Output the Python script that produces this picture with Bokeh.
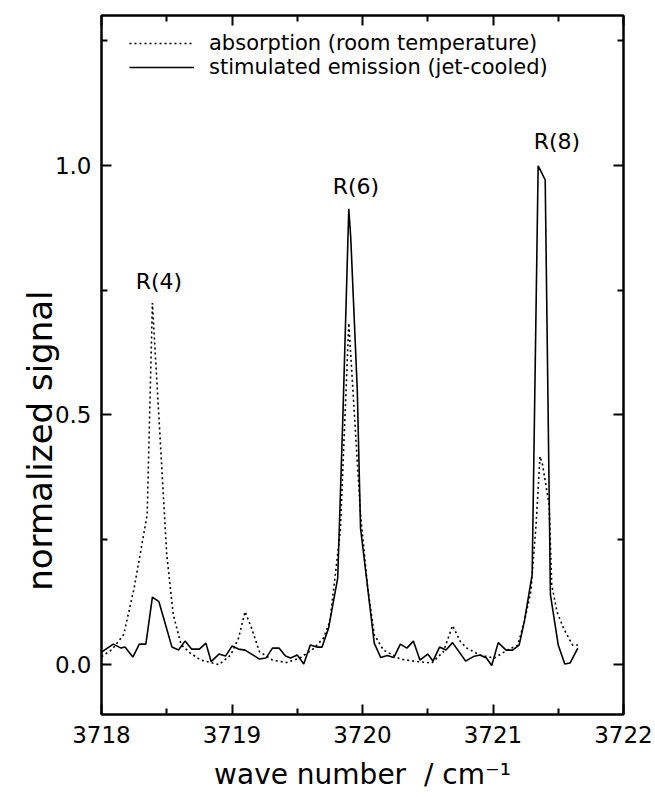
from bokeh.plotting import figure
from bokeh.models import (Range1d, FixedTicker, LinearAxis, Legend, LegendItem, ColumnDataSource,
                          CustomJSTickFormatter, PrintfTickFormatter)
from bokeh.core.properties import value
from bokeh.embed import file_html
from bokeh.resources import INLINE

# ---- data ----
solid_x = [3718.00, 3718.09, 3718.15, 3718.18, 3718.24, 3718.29, 3718.34, 3718.39, 3718.44,
           3718.54, 3718.59, 3718.64, 3718.69, 3718.75, 3718.80, 3718.84, 3718.90, 3718.95,
           3719.00, 3719.05, 3719.10, 3719.15, 3719.21, 3719.26, 3719.31, 3719.36, 3719.41,
           3719.45, 3719.50, 3719.55, 3719.60, 3719.65, 3719.69, 3719.74, 3719.81, 3719.85,
           3719.895, 3719.91, 3719.96, 3719.985, 3720.04, 3720.09, 3720.14, 3720.19, 3720.24,
           3720.29, 3720.34, 3720.39, 3720.44, 3720.50, 3720.54, 3720.59, 3720.64, 3720.69,
           3720.79, 3720.85, 3720.90, 3720.95, 3720.99, 3721.04, 3721.10, 3721.15, 3721.20,
           3721.24, 3721.30, 3721.346, 3721.40, 3721.44, 3721.50, 3721.55, 3721.59, 3721.65]
solid_y = [0.025, 0.041, 0.033, 0.035, 0.015, 0.041, 0.041, 0.135, 0.126,
           0.035, 0.029, 0.047, 0.031, 0.031, 0.043, 0.006, 0.021, 0.017,
           0.037, 0.031, 0.029, 0.021, 0.011, 0.013, 0.033, 0.033, 0.017,
           0.013, 0.019, 0.001, 0.039, 0.035, 0.035, 0.073, 0.173, 0.500,
           0.913, 0.855, 0.550, 0.273, 0.153, 0.043, 0.014, 0.018, 0.014,
           0.041, 0.033, 0.047, 0.009, 0.021, 0.007, 0.035, 0.029, 0.044,
           0.007, 0.016, 0.019, 0.013, -0.002, 0.044, 0.029, 0.029, 0.039,
           0.086, 0.180, 0.999, 0.971, 0.140, 0.039, 0.001, 0.003, 0.033]

dotted_x = [3718.00, 3718.08, 3718.17, 3718.25, 3718.35, 3718.39, 3718.50, 3718.55, 3718.61,
            3718.68, 3718.76, 3718.90, 3718.99, 3719.05, 3719.10, 3719.15, 3719.21, 3719.31,
            3719.42, 3719.52, 3719.63, 3719.70, 3719.75, 3719.83, 3719.895, 3719.985, 3720.04,
            3720.09, 3720.16, 3720.29, 3720.39, 3720.53, 3720.62, 3720.69, 3720.75, 3720.80,
            3720.90, 3721.01, 3721.11, 3721.19, 3721.24, 3721.29, 3721.33, 3721.36, 3721.38,
            3721.43, 3721.45, 3721.49, 3721.54, 3721.61, 3721.65]
dotted_y = [0.016, 0.030, 0.060, 0.153, 0.300, 0.724, 0.220, 0.100, 0.040,
            0.023, 0.009, 0.000, 0.019, 0.053, 0.106, 0.073, 0.026, 0.009,
            0.004, 0.013, 0.033, 0.053, 0.086, 0.267, 0.684, 0.300, 0.153,
            0.060, 0.029, 0.011, 0.007, 0.003, 0.026, 0.078, 0.046, 0.033,
            0.019, 0.013, 0.029, 0.039, 0.086, 0.146, 0.280, 0.417, 0.400,
            0.320, 0.160, 0.106, 0.073, 0.039, 0.039]

peak_labels = ["R(4)", "R(6)", "R(8)"]
peak_label_x = [3718.44, 3719.95, 3721.49]
peak_label_y = [0.768, 0.958, 1.048]

series_names = ["absorption (room temperature)", "stimulated emission (jet-cooled)"]
x_ticks = [3718, 3719, 3720, 3721, 3722]
x_minor = [3718.5, 3719.5, 3720.5, 3721.5]
y_ticks = [0.0, 0.5, 1.0]
y_minor = [-0.25, 0.25, 0.75, 1.25]
x_title = "wave number\u00a0\u00a0/ cm\u207b\u00b9"
y_title = "normalized signal"

FONT = "DejaVu Sans"
NB = "\u00a0"

p = figure(width=655, height=797, output_backend="svg", toolbar_location=None,
           x_range=Range1d(3718, 3722), y_range=Range1d(-0.1, 1.3),
           min_border_left=101, min_border_right=32, min_border_top=15, min_border_bottom=83)
p.xgrid.visible = False
p.ygrid.visible = False
p.outline_line_color = "black"
p.outline_line_width = 2
p.background_fill_color = "white"
p.border_fill_color = "white"

r_dot = p.line(dotted_x, dotted_y, line_color="black", line_width=1.6, line_dash="2 3")
r_sol = p.line(solid_x, solid_y, line_color="black", line_width=1.6)

src = ColumnDataSource(dict(x=peak_label_x, y=peak_label_y, t=peak_labels))
p.text(x="x", y="y", text="t", source=src, text_align="center", text_baseline="middle",
       text_font=value(FONT), text_font_size="22px", text_color="black")

def style_axis(ax, labels=True):
    ax.axis_line_color = "black"
    ax.axis_line_width = 2
    ax.major_tick_in = 10
    ax.major_tick_out = 0
    ax.minor_tick_in = 6
    ax.minor_tick_out = 0
    ax.major_tick_line_width = 2
    ax.minor_tick_line_width = 2
    ax.major_tick_line_color = "black"
    ax.minor_tick_line_color = "black"
    ax.major_label_text_font = FONT
    ax.major_label_text_font_size = "23px"
    ax.major_label_text_color = "black"
    ax.axis_label_text_font = FONT
    ax.axis_label_text_font_style = "normal"
    ax.axis_label_text_color = "black"
    if not labels:
        ax.formatter = CustomJSTickFormatter(code="return ''")
        ax.major_label_standoff = 0

p.xaxis.ticker = FixedTicker(ticks=x_ticks, minor_ticks=x_minor)
p.yaxis.ticker = FixedTicker(ticks=y_ticks, minor_ticks=y_minor)
p.yaxis.formatter = PrintfTickFormatter(format="%.1f")
style_axis(p.xaxis[0])
style_axis(p.yaxis[0])
p.xaxis.axis_label = x_title
# trailing no-break spaces shift the rotated title downward, as in the reference
p.yaxis.axis_label = y_title + NB * 14
p.xaxis.axis_label_text_font_size = "28px"
p.yaxis.axis_label_text_font_size = "34px"
p.xaxis.major_label_standoff = 11
p.yaxis.major_label_standoff = 10
p.xaxis.axis_label_standoff = 12
p.yaxis.axis_label_standoff = -8

top = LinearAxis(ticker=FixedTicker(ticks=x_ticks, minor_ticks=x_minor))
right = LinearAxis(ticker=FixedTicker(ticks=y_ticks, minor_ticks=y_minor))
style_axis(top, labels=False)
style_axis(right, labels=False)
p.add_layout(top, "above")
p.add_layout(right, "right")

legend = Legend(items=[LegendItem(label=series_names[0], renderers=[r_dot]),
                       LegendItem(label=series_names[1], renderers=[r_sol])],
                location=(28, 635), glyph_width=65, glyph_height=20, label_standoff=15,
                padding=0, spacing=0, margin=0, border_line_color=None,
                background_fill_alpha=0, label_text_font=FONT, label_text_font_size="21px",
                label_text_color="black")
p.add_layout(legend)

open("out.html", "w").write(file_html(p, INLINE))
